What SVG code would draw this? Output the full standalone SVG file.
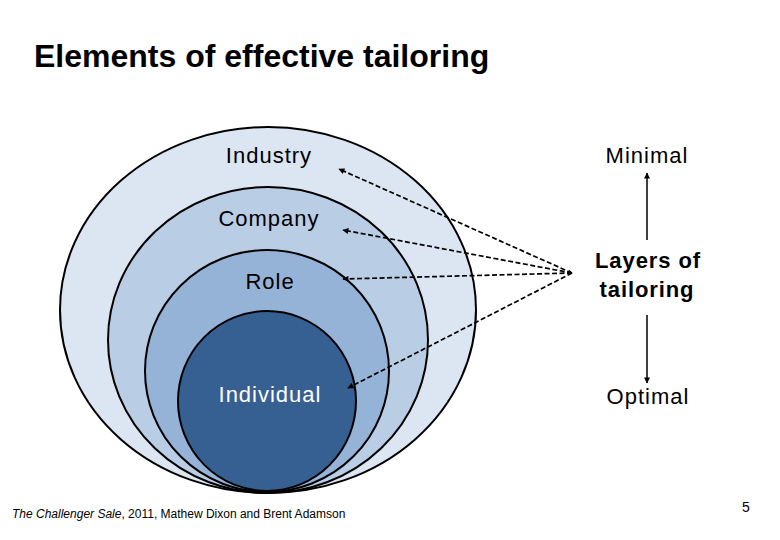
<svg xmlns="http://www.w3.org/2000/svg" width="780" height="540" viewBox="0 0 780 540">
<style>
.ring{stroke:#000;stroke-width:2}
.lbl{font-family:"Liberation Sans",Arial,sans-serif;font-size:22px;letter-spacing:1px;fill:#000}
.lblw{font-family:"Liberation Sans",Arial,sans-serif;font-size:22px;letter-spacing:1px;fill:#fff}
.bold{font-family:"Liberation Sans",Arial,sans-serif;font-size:22px;letter-spacing:0.9px;font-weight:bold;fill:#000}
.dash{fill:none;stroke:#000;stroke-width:1.7;stroke-dasharray:5 2.5}
.solid{fill:none;stroke:#000;stroke-width:1.5}
</style>
<defs>
<marker id="ah" viewBox="0 0 10 10" refX="9" refY="5" markerWidth="7" markerHeight="6" markerUnits="userSpaceOnUse" orient="auto-start-reverse">
<path d="M0,0 L10,5 L0,10 z" fill="#000"/>
</marker>
<marker id="as" viewBox="0 0 10 10" refX="9" refY="5" markerWidth="5" markerHeight="4" markerUnits="userSpaceOnUse" orient="auto-start-reverse">
<path d="M0,0 L10,5 L0,10 z" fill="#000"/>
</marker>
</defs>
<rect width="780" height="540" fill="#fff"/>
<text x="34" y="67" font-family="'Liberation Sans',Arial,sans-serif" font-size="32" font-weight="bold" fill="#000">Elements of effective tailoring</text>
<g id="industry">
<ellipse class="ring" cx="268" cy="310" rx="208" ry="183" fill="#dce6f2"/>
<text class="lbl" x="269" y="163" text-anchor="middle">Industry</text>
</g>
<g id="company">
<ellipse class="ring" cx="268" cy="340" rx="160" ry="153" fill="#b9cde5"/>
<text class="lbl" x="269" y="226" text-anchor="middle">Company</text>
</g>
<g id="role">
<ellipse class="ring" cx="267" cy="371" rx="122" ry="121" fill="#95b3d7"/>
<text class="lbl" x="270" y="289" text-anchor="middle">Role</text>
</g>
<g id="individual">
<ellipse class="ring" cx="267" cy="401" rx="89" ry="90" fill="#376092"/>
<text class="lblw" x="270" y="402" text-anchor="middle">Individual</text>
</g>
<g id="minimal"><text class="lbl" x="647" y="163" text-anchor="middle">Minimal</text></g>
<g id="layers">
<text class="bold" x="648" y="268" text-anchor="middle">Layers of</text>
<text class="bold" x="647" y="297" text-anchor="middle">tailoring</text>
</g>
<g id="optimal"><text class="lbl" x="648" y="404" text-anchor="middle">Optimal</text></g>
<g id="connectors">
<line class="dash" x1="572" y1="273" x2="339" y2="169" marker-start="url(#as)" marker-end="url(#ah)"/>
<line class="dash" x1="572" y1="273" x2="343" y2="230" marker-end="url(#ah)"/>
<line class="dash" x1="572" y1="273" x2="343" y2="279" marker-end="url(#ah)"/>
<line class="dash" x1="572" y1="273" x2="348" y2="388" marker-end="url(#ah)"/>
<line class="solid" x1="647" y1="240" x2="647" y2="173" marker-end="url(#ah)"/>
<line class="solid" x1="647" y1="315" x2="647" y2="383" marker-end="url(#ah)"/>
</g>
<text x="12" y="518" font-family="'Liberation Sans',Arial,sans-serif" font-size="12" fill="#000"><tspan font-style="italic">The Challenger Sale</tspan>, 2011, Mathew Dixon and Brent Adamson</text>
<text x="742" y="512" font-family="'Liberation Sans',Arial,sans-serif" font-size="14" fill="#000">5</text>
</svg>
